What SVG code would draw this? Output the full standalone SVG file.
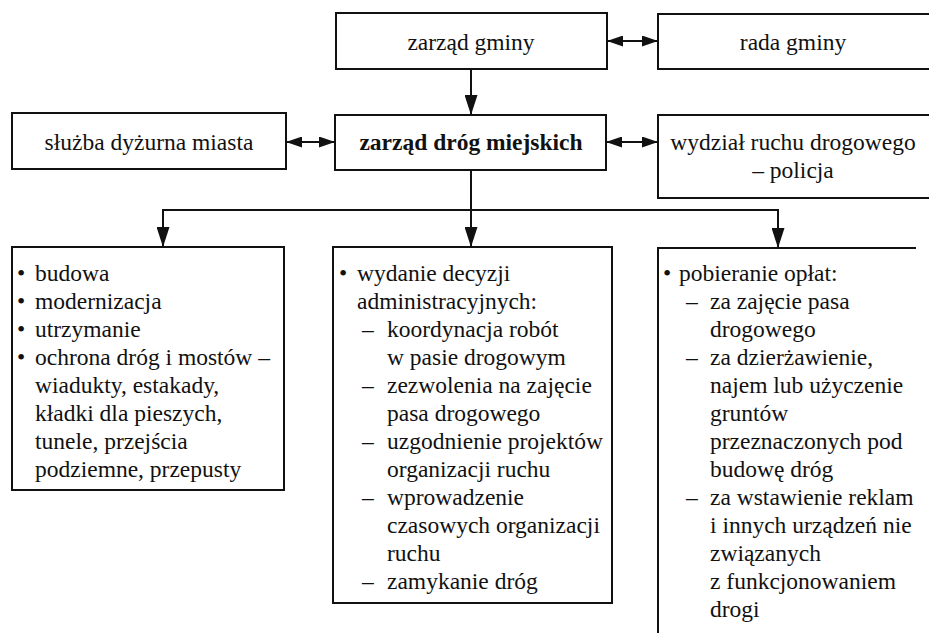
<svg xmlns="http://www.w3.org/2000/svg" width="929" height="633" viewBox="0 0 929 633">
  <style>
    .box { fill: #fff; stroke: #111; stroke-width: 2; }
    .open { fill: none; stroke: #111; stroke-width: 2; }
    .t { font-family: "Liberation Serif", "Times New Roman", serif; font-size: 23.5px; fill: #111; }
    .c { text-anchor: middle; }
    .b { font-weight: bold; }
    .wire { fill: none; stroke: #111; stroke-width: 2; }
    .head { fill: #111; stroke: none; }
  </style>
  <defs>
    <!-- short heads for the side links, longer heads for the downward flow -->
    <marker id="arr" viewBox="0 0 16 11" refX="16" refY="5.5" markerWidth="16" markerHeight="11" markerUnits="userSpaceOnUse" orient="auto-start-reverse">
      <path class="head" d="M0,0 L16,5.5 L0,11 Z"/>
    </marker>
    <marker id="arrv" viewBox="0 0 20 13" refX="20" refY="6.5" markerWidth="20" markerHeight="13" markerUnits="userSpaceOnUse" orient="auto-start-reverse">
      <path class="head" d="M0,0 L20,6.5 L0,13 Z"/>
    </marker>
  </defs>
  <rect width="929" height="633" fill="#fff"/>

  <!-- connectors -->
  <g id="connectors">
    <line class="wire" x1="607" y1="41" x2="658" y2="41" marker-start="url(#arr)" marker-end="url(#arr)"/>
    <line class="wire" x1="471" y1="69" x2="471" y2="115" marker-end="url(#arrv)"/>
    <line class="wire" x1="286" y1="142" x2="335" y2="142" marker-start="url(#arr)" marker-end="url(#arr)"/>
    <line class="wire" x1="606" y1="142" x2="658" y2="142" marker-start="url(#arr)" marker-end="url(#arr)"/>
    <line class="wire" x1="471" y1="170" x2="471" y2="247" marker-end="url(#arrv)"/>
    <polyline class="wire" points="163,247 163,210 778,210 778,248" marker-start="url(#arrv)" marker-end="url(#arrv)"/>
  </g>

  <g id="zarzad-gminy">
    <rect class="box" x="336" y="13" width="271" height="56"/>
    <text class="t c" x="471" y="50">zarząd gminy</text>
  </g>

  <g id="rada-gminy">
    <rect class="box" x="658" y="14" width="280" height="55"/>
    <text class="t c" x="793" y="50">rada gminy</text>
  </g>

  <g id="sluzba-dyzurna">
    <rect class="box" x="12" y="113" width="274" height="56"/>
    <text class="t c" x="149" y="150">służba dyżurna miasta</text>
  </g>

  <g id="zarzad-drog">
    <rect class="box" x="335" y="115" width="271" height="55"/>
    <text class="t c b" x="471" y="150">zarząd dróg miejskich</text>
  </g>

  <g id="wydzial-ruchu">
    <rect class="box" x="658" y="115" width="280" height="83"/>
    <text class="t c" x="793" y="150">wydział ruchu drogowego</text>
    <text class="t c" x="793" y="178">– policja</text>
  </g>

  <g id="zadania-drogowe">
    <rect class="box" x="12" y="247" width="272" height="243"/>
    <text class="t" x="17" y="281">•</text><text class="t" x="35" y="281">budowa</text>
    <text class="t" x="17" y="309">•</text><text class="t" x="35" y="309">modernizacja</text>
    <text class="t" x="17" y="337">•</text><text class="t" x="35" y="337">utrzymanie</text>
    <text class="t" x="17" y="365">•</text><text class="t" x="35" y="365">ochrona dróg i mostów –</text>
    <text class="t" x="35" y="393">wiadukty, estakady,</text>
    <text class="t" x="35" y="421">kładki dla pieszych,</text>
    <text class="t" x="35" y="449">tunele, przejścia</text>
    <text class="t" x="35" y="477">podziemne, przepusty</text>
  </g>

  <g id="decyzje">
    <rect class="box" x="333" y="247" width="279" height="356"/>
    <text class="t" x="339" y="281">•</text><text class="t" x="357" y="281">wydanie decyzji</text>
    <text class="t" x="357" y="309">administracyjnych:</text>
    <text class="t" x="362" y="337">–</text><text class="t" x="387" y="337">koordynacja robót</text>
    <text class="t" x="387" y="365">w pasie drogowym</text>
    <text class="t" x="362" y="393">–</text><text class="t" x="387" y="393">zezwolenia na zajęcie</text>
    <text class="t" x="387" y="421">pasa drogowego</text>
    <text class="t" x="362" y="449">–</text><text class="t" x="387" y="449">uzgodnienie projektów</text>
    <text class="t" x="387" y="477">organizacji ruchu</text>
    <text class="t" x="362" y="505">–</text><text class="t" x="387" y="505">wprowadzenie</text>
    <text class="t" x="387" y="533">czasowych organizacji</text>
    <text class="t" x="387" y="561">ruchu</text>
    <text class="t" x="362" y="589">–</text><text class="t" x="387" y="589">zamykanie dróg</text>
  </g>

  <g id="oplaty">
    <path class="open" d="M916,248 H658 V633"/>
    <text class="t" x="663" y="281">•</text><text class="t" x="679" y="281">pobieranie opłat:</text>
    <text class="t" x="686" y="309">–</text><text class="t" x="710" y="309">za zajęcie pasa</text>
    <text class="t" x="710" y="337">drogowego</text>
    <text class="t" x="686" y="365">–</text><text class="t" x="710" y="365">za dzierżawienie,</text>
    <text class="t" x="710" y="393">najem lub użyczenie</text>
    <text class="t" x="710" y="421">gruntów</text>
    <text class="t" x="710" y="449">przeznaczonych pod</text>
    <text class="t" x="710" y="477">budowę dróg</text>
    <text class="t" x="686" y="505">–</text><text class="t" x="710" y="505">za wstawienie reklam</text>
    <text class="t" x="710" y="533">i innych urządzeń nie</text>
    <text class="t" x="710" y="561">związanych</text>
    <text class="t" x="710" y="589">z funkcjonowaniem</text>
    <text class="t" x="710" y="617">drogi</text>
  </g>
</svg>
